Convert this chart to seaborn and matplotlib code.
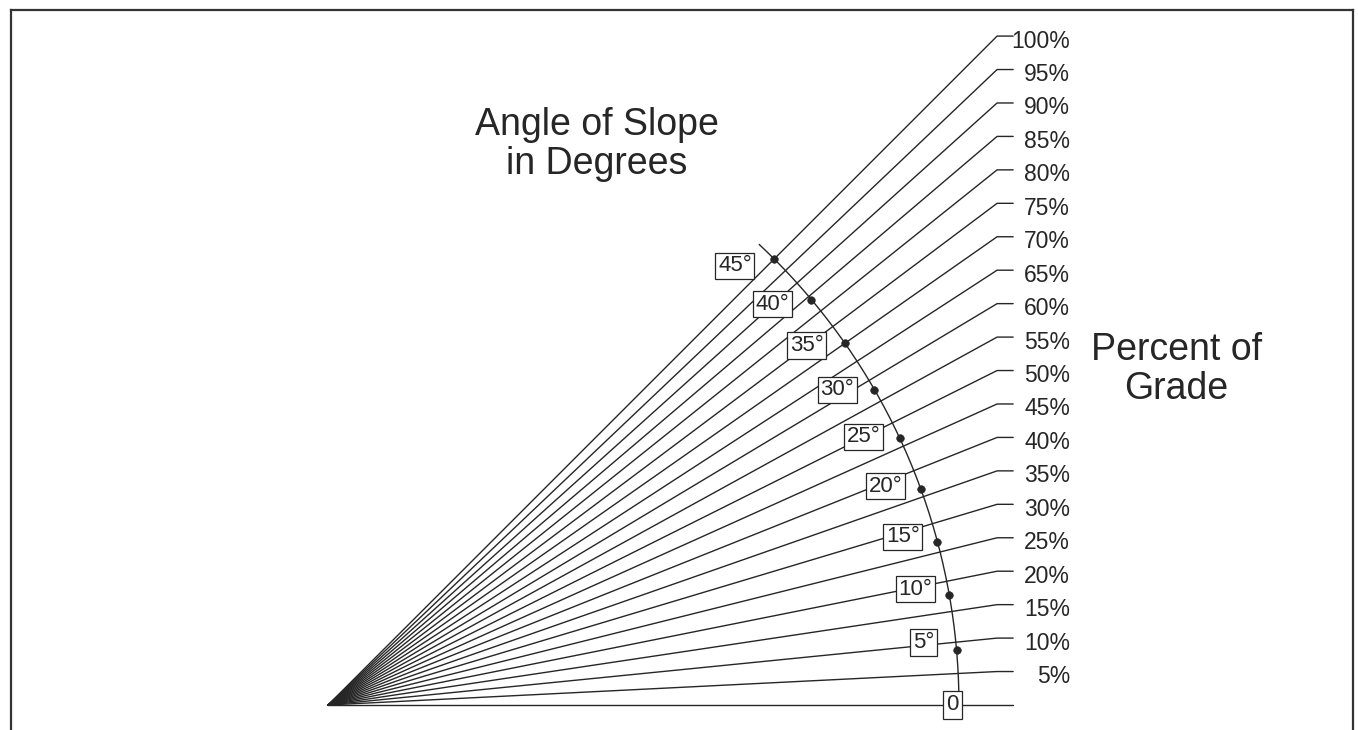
import numpy as np
import pandas as pd
import matplotlib
matplotlib.use("Agg")
import matplotlib.pyplot as plt
import seaborn as sns

# percent of grade for each ray
grades = [0, 5, 10, 15, 20, 25, 30, 35, 40, 45, 50, 55, 60, 65, 70, 75, 80, 85, 90, 95, 100]
grade_labels = ['', '5%', '10%', '15%', '20%', '25%', '30%', '35%', '40%', '45%', '50%',
                '55%', '60%', '65%', '70%', '75%', '80%', '85%', '90%', '95%', '100%']
# angle marks on the arc
degrees = [5, 10, 15, 20, 25, 30, 35, 40, 45]
degree_labels = ['5°', '10°', '15°', '20°', '25°', '30°', '35°', '40°', '45°']

ink = '#262626'
radius = 0.943
tick_len = 0.024

sns.set_theme(style='white')
plt.rcParams['font.family'] = ['Liberation Sans', 'DejaVu Sans']

fig = plt.figure(figsize=(13.58, 7.30), dpi=100)
ax = fig.add_axes([11 / 1358, 0, 1342 / 1358, 720 / 730])
ax.set_xlim(-0.474, 1.532)
ax.set_ylim(-0.0374, 1.039)
ax.set_xticks([])
ax.set_yticks([])
for side in ['left', 'top', 'right']:
    ax.spines[side].set_visible(True)
    ax.spines[side].set_color('#333333')
    ax.spines[side].set_linewidth(1.6)
ax.spines['bottom'].set_visible(False)

# rays: origin -> run of 1 -> short horizontal tail
rows = []
for g in grades:
    rise = g / 100
    rows += [(g, 0.0, 0.0), (g, 1.0, rise), (g, 1.0 + tick_len, rise)]
rays = pd.DataFrame(rows, columns=['grade', 'x', 'y'])
sns.lineplot(data=rays, x='x', y='y', units='grade', estimator=None, sort=False,
             color=ink, lw=1.0, ax=ax)

for g, lab in zip(grades, grade_labels):
    if lab:
        ax.text(1.109, g / 100 - 0.0075, lab, ha='right', va='center', fontsize=16.5, color=ink)

# arc of constant radius
theta = np.radians(np.linspace(0, 46.9, 200))
ax.plot(radius * np.cos(theta), radius * np.sin(theta), color=ink, lw=1.0)

dots = pd.DataFrame({'x': radius * np.cos(np.radians(degrees)),
                     'y': radius * np.sin(np.radians(degrees))})
sns.scatterplot(data=dots, x='x', y='y', s=30, color=ink, edgecolor=ink, ax=ax, zorder=5)

box = dict(boxstyle='square,pad=0.12', fc='white', ec=ink, lw=0.9)
for d, lab in zip(degrees, degree_labels):
    a = np.radians(d + 1 + (d - 5) * 0.03)
    ax.text(0.895 * np.cos(a), 0.895 * np.sin(a), lab, ha='center', va='center',
            fontsize=16, color=ink, bbox=box, zorder=6)
ax.text(radius - 0.01, 0, '0', ha='center', va='center', fontsize=16, color=ink,
        bbox=dict(boxstyle='square,pad=0.15', fc='white', ec=ink, lw=0.9), zorder=6)

ax.text(0.402, 0.838, 'Angle of Slope\nin Degrees', ha='center', va='center',
        fontsize=27, color=ink, linespacing=1.1)
ax.text(1.268, 0.501, 'Percent of\nGrade', ha='center', va='center',
        fontsize=27, color=ink, linespacing=1.1)

ax.set_xlabel('')
ax.set_ylabel('')
fig.savefig('out.png', dpi=100, facecolor='white')
